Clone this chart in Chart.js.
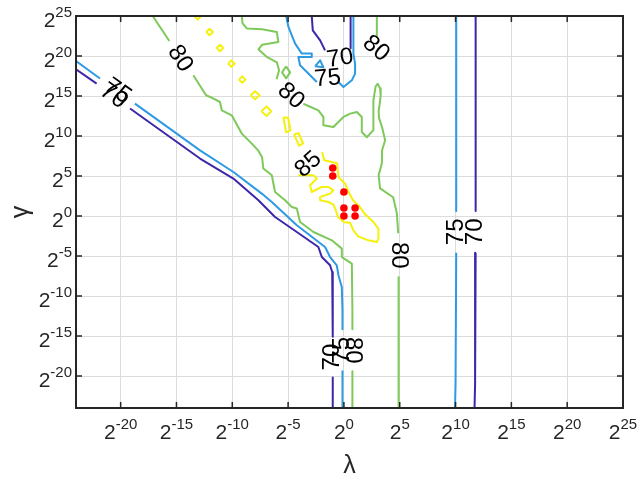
<!DOCTYPE html>
<html>
<head>
<meta charset="utf-8">
<script src="https://cdn.jsdelivr.net/npm/chart.js@4.4.0/dist/chart.umd.min.js"></script>
<style>
  html, body { margin: 0; padding: 0; background: #fff; }
</style>
</head>
<body>
<canvas id="mycanvas" width="638" height="480"></canvas>
<script>
// axes (log2 exponents)
var lambdaTicks = [-20, -15, -10, -5, 0, 5, 10, 15, 20, 25];
var gammaTicks = [-20, -15, -10, -5, 0, 5, 10, 15, 20, 25];
var lambdaMin = -24, lambdaMax = 25;
var gammaMin = -24, gammaMax = 25;

// contour levels (accuracy %)
var levels = [70, 75, 80, 85];

// contour pieces, [log2 lambda, log2 gamma]
var c70 = [
	[[-24, 18.34], [-22.15, 16.55]],
	[[-19.16, 13.43], [-12.89, 7.18], [-9.90, 4.68], [-7.66, 1.96], [-6.17, -0.13], [-4.22, -2.0], [-2.29, -3.88], [-1.98, -5.13], [-1.24, -6.16], [-1.05, -7.0], [-1.0, -11.8], [-1.0, -15.1]],
	[[-1.0, -20.2], [-1.0, -24]],
	[[-2.88, 25], [-2.79, 23.21], [-2.13, 21.96], [-1.69, 20.71]],
	[[0.56, 20.93], [0.6, 23.2], [0.6, 25]],
	[[11.8, 25], [11.8, 0.62]],
	[[11.8, -4.58], [11.75, -21], [11.7, -24]]
];
var c75 = [
	[[-24, 19.38], [-21.85, 17.18]],
	[[-18.72, 14.05], [-12.89, 8.21], [-9.90, 5.5], [-7.36, 2.8], [-6.46, 1.75], [-4.22, -1.16], [-1.69, -3.88], [-1.24, -5.13], [-0.64, -6.16], [-0.49, -7.41], [-0.19, -8.88], [-0.13, -11.79], [-0.13, -14.16]],
	[[-0.13, -19.41], [-0.13, -24]],
	[[-5.18, 25], [-4.97, 23.63], [-4.37, 21.55], [-3.77, 20.3], [-2.88, 20.3], [-2.88, 19.88], [-4.08, 19.88], [-3.93, 18.84], [-3.03, 17.59], [-2.43, 16.75]],
	[[-0.49, 16.75], [-0.04, 16.13], [0.71, 16.96], [1.0, 17.8], [1.0, 19.05], [0.85, 20.3], [0.85, 25]],
	[[-2.58, 18.71], [-2.13, 19.46], [-1.84, 18.59], [-2.58, 18.71]],
	[[10.06, 25], [10.06, 0.62]],
	[[10.06, -4.58], [10.0, -21], [9.95, -24]]
];
var c80 = [
	[[-17.13, 25], [-15.64, 21.88]],
	[[-13.49, 17.59], [-12.35, 15.09], [-11.99, 14.88], [-11.10, 14.25], [-10.94, 13.21], [-10.05, 12.59], [-9.15, 10.3], [-8.25, 9.05], [-7.69, 8.21], [-7.33, 7.34], [-7.22, 5.93], [-6.46, 5.09], [-6.17, 3.0], [-5.27, 1.96], [-4.67, 1.13], [-4.22, 0.93], [-3.93, -0.75], [-2.73, -2.0], [-1.08, -3.04], [-0.19, -4.08], [-0.19, -5.13], [0.71, -5.95], [0.76, -11.79], [0.76, -14.16]],
	[[0.76, -19.41], [0.76, -24]],
	[[-9.15, 25], [-9.08, 24.09], [-8.68, 23.43], [-7.33, 23.34], [-6.01, 23.0], [-5.87, 21.75], [-7.33, 21.4], [-7.66, 20.84], [-6.91, 19.88], [-6.01, 19.21], [-5.81, 18.21], [-6.03, 17.09]],
	[[-5.18, 18.71], [-4.82, 17.96], [-5.18, 17.21], [-5.54, 17.96], [-5.18, 18.71]],
	[[-3.63, 14.05], [-3.33, 13.84], [-2.29, 13.21], [-1.84, 12.38], [-1.84, 11.34], [-0.94, 11.13], [-0.04, 12.38], [0.56, 12.8], [1.16, 13.0], [1.60, 12.38], [1.60, 10.5], [2.05, 9.84], [2.62, 10.71], [2.66, 12.34], [2.62, 14.46], [2.84, 16.21], [3.02, 16.53], [3.24, 15.96], [3.29, 15.09], [3.20, 13.96], [3.11, 13.09], [3.15, 12.21], [3.42, 11.09], [3.69, 9.46], [3.42, 8.21], [3.40, 6.59], [3.11, 5.09], [3.24, 3.46], [4.41, 2.34], [4.74, 0.34], [4.86, -2.16]],
	[[4.9, -7.66], [4.9, -24]],
	[[2.95, 25], [2.95, 22.38]]
];
var c85 = [
	[[-1.95, 8.0], [-1.77, 6.96], [-0.61, 6.59], [-0.48, 4.84], [0.11, 4.03], [0.47, 2.84], [0.82, 1.96], [1.45, 1.09], [1.90, 0.21], [2.64, -0.75], [3.09, -1.58], [3.09, -2.83], [2.95, -3.25], [2.20, -3.04], [1.27, -2.54], [0.85, -1.79], [0.56, -0.85], [0.02, -0.79], [-0.52, -0.16], [-0.79, 0.96], [-0.97, 1.46], [-1.39, 1.75], [-2.13, 1.96], [-2.13, 2.38], [-1.24, 2.8], [-0.94, 3.21], [-1.39, 3.63], [-1.98, 3.63], [-2.88, 3.0], [-3.03, 3.84], [-2.43, 4.68], [-2.73, 5.09], [-4.08, 5.09]],
	[[-13.4, 25], [-13.1, 24.55], [-12.8, 25]],
	[[-12.33, 23.0], [-12.03, 23.4], [-11.73, 23.0], [-12.03, 22.6], [-12.33, 23.0]],
	[[-11.4, 21.0], [-11.1, 21.4], [-10.8, 21.0], [-11.1, 20.6], [-11.4, 21.0]],
	[[-10.38, 19.05], [-10.08, 19.45], [-9.78, 19.05], [-10.08, 18.65], [-10.38, 19.05]],
	[[-9.41, 17.05], [-9.11, 17.45], [-8.81, 17.05], [-9.11, 16.65], [-9.41, 17.05]],
	[[-8.36, 15.1], [-7.96, 15.6], [-7.56, 15.1], [-7.96, 14.6], [-8.36, 15.1]],
	[[-7.4, 13.1], [-6.93, 13.7], [-6.5, 13.1], [-6.93, 12.5], [-7.4, 13.1]],
	[[-5.42, 12.34], [-5.0, 12.28], [-4.78, 10.71], [-5.18, 10.46], [-5.42, 12.34]],
	[[-4.46, 10.21], [-4.06, 10.34], [-3.66, 9.09], [-4.02, 8.78], [-4.46, 10.21]]
];

// best parameter pairs (red dots)
var bestLambda = [-1, -1, 0, 0, 1, 0, 1];
var bestGamma = [6, 5, 3, 1, 1, 0, 0];

// contour labels: text, lambda, gamma, angle
var labelText = ['75', '70', '80', '80', '75', '70', '80', '85', '80', '75', '70', '70', '75', '80'];
var labelLambda = [-20.28, -20.66, -14.68, -4.75, -1.46, -0.34, 2.87, -3.18, 4.86, 10.06, 11.79, -1.0, -0.13, 0.76];
var labelGamma = [15.61, 14.99, 19.68, 14.99, 17.18, 19.68, 20.93, 6.44, -4.91, -1.98, -1.98, -17.64, -16.79, -16.79];
var labelAngle = [36, 36, 57, 42, -5, -8, 40, -42, 90, -90, -90, -90, -90, 90];

var levelColors = ['#3e26a8', '#2e9ae3', '#7ec95a', '#f5f10c'];
var axisColor = '#262626';
var fontName = '"Liberation Sans", Arial, sans-serif';

function toPoints(piece) {
	return piece.map(function(p) { return {x: p[0], y: p[1]}; });
}

var datasets = [{
	data: bestLambda.map(function(v, i) { return {x: v, y: bestGamma[i]}; }),
	showLine: false,
	pointRadius: 3.8,
	pointBackgroundColor: '#ff0000',
	pointBorderWidth: 0,
	order: 0
}];
[c70, c75, c80, c85].forEach(function(pieces, k) {
	pieces.forEach(function(piece) {
		datasets.push({
			data: toPoints(piece),
			showLine: true,
			pointRadius: 0,
			borderColor: levelColors[k],
			borderWidth: 2,
			borderJoinStyle: 'round',
			fill: false,
			order: 1
		});
	});
});

function powLabel(ctx, exp, x, y, align) {
	ctx.font = '21px ' + fontName;
	var wb = ctx.measureText('2').width;
	ctx.font = '15px ' + fontName;
	var we = ctx.measureText(exp).width;
	var left = align === 'right' ? x - wb - we : x - (wb + we) / 2;
	ctx.textAlign = 'left';
	ctx.textBaseline = 'alphabetic';
	ctx.font = '21px ' + fontName;
	ctx.fillText('2', left, y);
	ctx.font = '15px ' + fontName;
	ctx.fillText(exp, left + wb, y - 10);
}

var decorations = {
	id: 'decorations',
	afterDatasetsDraw: function(chart) {
		var ctx = chart.ctx, xs = chart.scales.x, ys = chart.scales.y;
		ctx.save();
		ctx.fillStyle = '#000';
		ctx.font = '24px ' + fontName;
		ctx.textAlign = 'center';
		ctx.textBaseline = 'middle';
		for (var i = 0; i < labelText.length; i++) {
			ctx.save();
			ctx.translate(xs.getPixelForValue(labelLambda[i]), ys.getPixelForValue(labelGamma[i]));
			ctx.rotate(labelAngle[i] * Math.PI / 180);
			ctx.fillText(labelText[i], 0, 0);
			ctx.restore();
		}
		ctx.restore();
	},
	afterDraw: function(chart) {
		var ctx = chart.ctx, a = chart.chartArea, xs = chart.scales.x, ys = chart.scales.y;
		ctx.save();
		// box
		ctx.strokeStyle = axisColor;
		ctx.lineWidth = 2;
		ctx.strokeRect(a.left, a.top, a.right - a.left, a.bottom - a.top);
		// inward ticks on all sides
		ctx.lineWidth = 1.5;
		ctx.beginPath();
		lambdaTicks.forEach(function(v) {
			var px = xs.getPixelForValue(v);
			ctx.moveTo(px, a.bottom); ctx.lineTo(px, a.bottom - 6);
			ctx.moveTo(px, a.top); ctx.lineTo(px, a.top + 6);
		});
		gammaTicks.forEach(function(v) {
			var py = ys.getPixelForValue(v);
			ctx.moveTo(a.left, py); ctx.lineTo(a.left + 6, py);
			ctx.moveTo(a.right, py); ctx.lineTo(a.right - 6, py);
		});
		ctx.stroke();
		// tick labels 2^k
		ctx.fillStyle = axisColor;
		lambdaTicks.forEach(function(v) {
			powLabel(ctx, String(v), xs.getPixelForValue(v), a.bottom + 31, 'center');
		});
		gammaTicks.forEach(function(v) {
			powLabel(ctx, String(v), a.left - 4, ys.getPixelForValue(v) + 11, 'right');
		});
		// axis titles
		ctx.font = '25px ' + fontName;
		ctx.textAlign = 'center';
		ctx.textBaseline = 'middle';
		ctx.fillText('\u03bb', (a.left + a.right) / 2, 466);
		ctx.save();
		ctx.translate(21, (a.top + a.bottom) / 2);
		ctx.rotate(-Math.PI / 2);
		ctx.fillText('\u03b3', 0, 0);
		ctx.restore();
		ctx.restore();
	}
};

var ctx = document.getElementById('mycanvas').getContext('2d');
var chart = new Chart(ctx, {
	type: 'scatter',
	data: { datasets: datasets },
	options: {
		responsive: false,
		animation: false,
		devicePixelRatio: 1,
		layout: { padding: { top: 16, right: 15, left: 0, bottom: 0 } },
		plugins: { legend: { display: false }, tooltip: { enabled: false } },
		scales: {
			x: {
				type: 'linear',
				min: lambdaMin,
				max: lambdaMax,
				afterBuildTicks: function(scale) {
					scale.ticks = lambdaTicks.map(function(v) { return {value: v}; });
				},
				afterFit: function(scale) { scale.height = 72; },
				ticks: { display: false },
				grid: { color: '#dcdcdc', lineWidth: 1, drawTicks: false },
				border: { display: false }
			},
			y: {
				type: 'linear',
				min: gammaMin,
				max: gammaMax,
				afterBuildTicks: function(scale) {
					scale.ticks = gammaTicks.map(function(v) { return {value: v}; });
				},
				afterFit: function(scale) { scale.width = 76; },
				ticks: { display: false },
				grid: { color: '#dcdcdc', lineWidth: 1, drawTicks: false },
				border: { display: false }
			}
		}
	},
	plugins: [decorations]
});
</script>
</body>
</html>
